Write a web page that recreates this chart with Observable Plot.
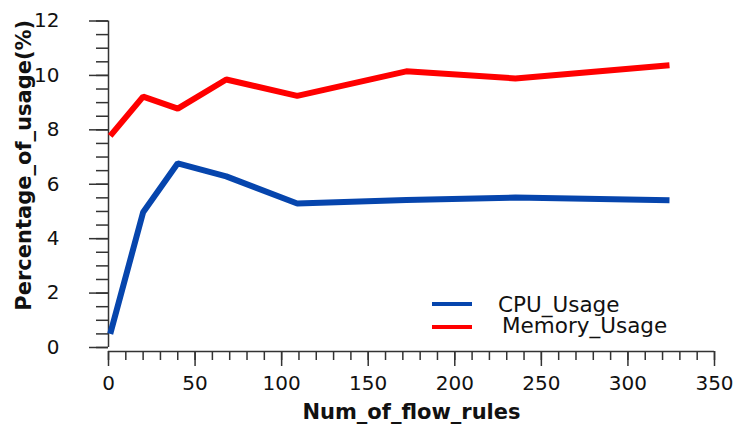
<!DOCTYPE html>
<html>
<head>
<meta charset="utf-8">
<script src="https://cdn.jsdelivr.net/npm/d3@7"></script>
<script src="https://cdn.jsdelivr.net/npm/@observablehq/plot@0.6"></script>
<style>
  html, body { margin: 0; padding: 0; background: white; }
  #wrap { position: relative; width: 736px; height: 425px; }
  .leg { position: absolute; font-family: "DejaVu Sans", sans-serif; font-size: 21.5px; line-height: 20px; color: #111; white-space: nowrap; }
  .sw { position: absolute; height: 4px; width: 40px; }
</style>
</head>
<body>
<div id="wrap"></div>
<script>
// Data
const numFlowRules = [1, 20, 40, 68, 109, 172, 235, 324];
const cpuUsage     = [0.5, 4.97, 6.77, 6.29, 5.29, 5.42, 5.51, 5.41];
const memoryUsage  = [7.78, 9.22, 8.78, 9.85, 9.25, 10.15, 9.89, 10.37];
const xTickLabels  = [0, 50, 100, 150, 200, 250, 300, 350];
const yTickLabels  = [0, 2, 4, 6, 8, 10, 12];
const seriesNames  = ["CPU_Usage", "Memory_Usage"];
const seriesColors = ["#0645ad", "#ff0000"];

const table = numFlowRules.map((x, i) => ({x, cpu: cpuUsage[i], mem: memoryUsage[i]}));
const xMinor = d3.range(0, 351, 10);
const yMinor = d3.range(0, 12.01, 0.5);
const axisColor = "#333";

const chart = Plot.plot({
  width: 736,
  height: 425,
  marginLeft: 108,
  marginRight: 22,
  marginTop: 20.5,
  marginBottom: 78,
  x: {domain: [0, 350]},
  y: {domain: [0, 12]},
  style: {fontFamily: "DejaVu Sans, sans-serif", fontSize: "20px", color: "#111", background: "white", overflow: "visible"},
  marks: [
    Plot.axisY({ticks: yMinor, tickSize: 12, tickFormat: () => "", label: null, stroke: axisColor, strokeWidth: 1.5}),
    Plot.axisY({ticks: yTickLabels, tickSize: 19, tickPadding: 30, label: null, stroke: axisColor, strokeWidth: 1.5, fontSize: 20}),
    Plot.axisX({ticks: xMinor, tickSize: 9, tickFormat: () => "", label: null, dy: 4, stroke: axisColor, strokeWidth: 1.5}),
    Plot.axisX({ticks: xTickLabels, tickSize: 15, tickPadding: 9, label: null, dy: 4, stroke: axisColor, strokeWidth: 1.5, fontSize: 20}),
    Plot.ruleX([0], {stroke: axisColor, strokeWidth: 1.5}),
    Plot.ruleY([0], {stroke: axisColor, strokeWidth: 1.5, dy: 4}),
    Plot.line(table, {x: "x", y: "mem", stroke: seriesColors[1], strokeWidth: 6, strokeLinejoin: "miter", strokeLinecap: "butt"}),
    Plot.line(table, {x: "x", y: "cpu", stroke: seriesColors[0], strokeWidth: 6, strokeLinejoin: "miter", strokeLinecap: "butt"}),
    Plot.text(["Num_of_flow_rules"], {frameAnchor: "bottom", lineAnchor: "bottom", dy: 71, fontWeight: "bold", fontSize: 21, fill: "#111"}),
    Plot.text(["Percentage_of_usage(%)"], {frameAnchor: "left", textAnchor: "middle", lineAnchor: "middle", rotate: -90, dx: -84, dy: -19, fontWeight: "bold", fontSize: 21, fill: "#111"})
  ]
});

const wrap = document.getElementById("wrap");
wrap.appendChild(chart);

// Legend (inside plot area, bottom right)
const legendPos = [{line: 302, text: 294.5, lx: 432, tx: 498}, {line: 325, text: 315.5, lx: 432, tx: 502}];
seriesNames.forEach((name, i) => {
  const sw = document.createElement("div");
  sw.className = "sw";
  sw.style.left = legendPos[i].lx + "px";
  sw.style.top = legendPos[i].line + "px";
  sw.style.background = seriesColors[i];
  wrap.appendChild(sw);
  const t = document.createElement("div");
  t.className = "leg";
  t.style.left = legendPos[i].tx + "px";
  t.style.top = legendPos[i].text + "px";
  t.textContent = name;
  wrap.appendChild(t);
});
</script>
</body>
</html>
